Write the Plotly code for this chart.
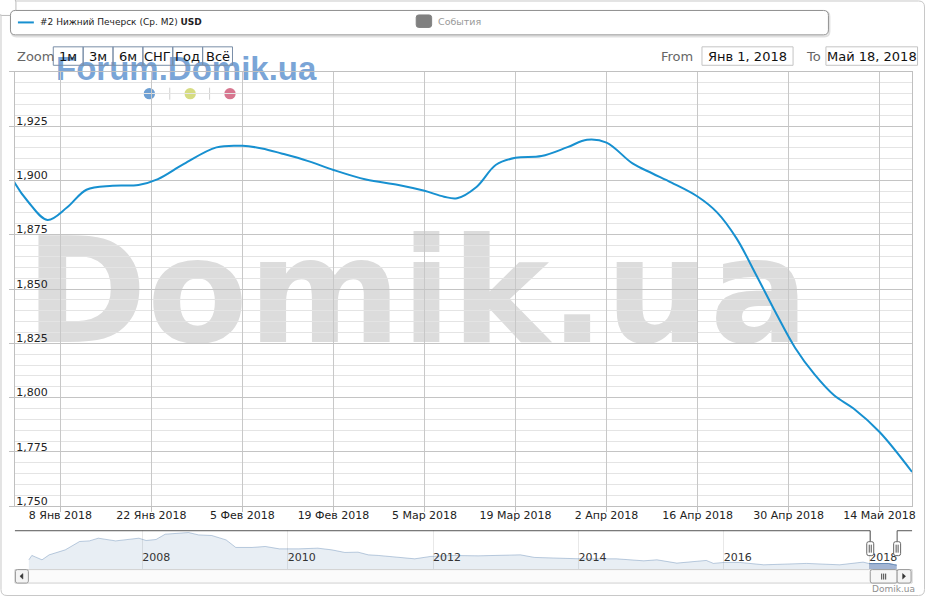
import plotly.graph_objects as go

W, H = 931, 600


def fx(x):
    return x / W


def fy(y):
    return 1 - y / H


# ---------------- data ----------------
series_name = "#2 Нижний Печерск (Ср. М2)"
series_unit = "USD"
events_label = "События"

main_dates = [
    "2017-12-30", "2018-01-01", "2018-01-03", "2018-01-06", "2018-01-09",
    "2018-01-12", "2018-01-16", "2018-01-20", "2018-01-23", "2018-01-27",
    "2018-02-01", "2018-02-05", "2018-02-08", "2018-02-11", "2018-02-15",
    "2018-02-19", "2018-02-24", "2018-03-01", "2018-03-05", "2018-03-08",
    "2018-03-10", "2018-03-13", "2018-03-16", "2018-03-19", "2018-03-23",
    "2018-03-27", "2018-03-30", "2018-04-02", "2018-04-06", "2018-04-09",
    "2018-04-12", "2018-04-16", "2018-04-19", "2018-04-22", "2018-04-25",
    "2018-04-28", "2018-05-01", "2018-05-04", "2018-05-07", "2018-05-10",
    "2018-05-14", "2018-05-19",
]
main_values = [
    1911.0, 1898.7, 1890.3, 1881.8, 1887.5,
    1895.7, 1897.5, 1897.9, 1900.6, 1907.6,
    1915.2, 1915.9, 1914.7, 1912.4, 1909.0,
    1904.8, 1900.4, 1897.9, 1895.2, 1892.5,
    1891.8, 1897.0, 1907.2, 1910.4, 1911.2,
    1915.3, 1918.7, 1917.4, 1907.8, 1903.3,
    1899.0, 1892.6, 1885.3, 1873.3, 1856.6,
    1839.3, 1823.0, 1810.7, 1801.1, 1795.0,
    1784.2, 1765.8,
]

x_tick_vals = ["2018-01-08", "2018-01-22", "2018-02-05", "2018-02-19", "2018-03-05",
               "2018-03-19", "2018-04-02", "2018-04-16", "2018-04-30", "2018-05-14"]
x_tick_text = ["8 Янв 2018", "22 Янв 2018", "5 Фев 2018", "19 Фев 2018", "5 Мар 2018",
               "19 Мар 2018", "2 Апр 2018", "16 Апр 2018", "30 Апр 2018", "14 Май 2018"]
x_range = ["2018-01-01", "2018-05-19"]

y_tick_vals = [1750, 1775, 1800, 1825, 1850, 1875, 1900, 1925, 1950]
y_tick_text = ["1,750", "1,775", "1,800", "1,825", "1,850", "1,875", "1,900", "1,925", ""]
y_range = [1750, 1950]

# navigator (full history, thumbnail)
nav_dates = [
    "2006-06-10", "2006-06-25", "2006-07-15", "2006-08-15", "2006-09-20", "2006-12-10",
    "2007-02-20", "2007-04-10", "2007-05-25", "2007-08-20", "2007-12-15", "2008-01-20",
    "2008-03-10", "2008-04-25", "2008-08-20", "2008-10-10", "2008-12-15", "2009-02-25",
    "2009-04-15", "2009-07-05", "2009-09-10", "2009-11-20", "2010-02-25", "2010-06-01",
    "2010-08-10", "2010-10-15", "2010-12-20", "2011-02-10", "2011-04-01", "2011-07-10",
    "2011-10-01", "2011-12-20", "2012-04-01", "2012-08-15", "2013-03-15", "2013-05-25",
    "2014-01-10", "2014-07-10", "2014-11-25", "2015-01-30", "2015-05-10", "2015-10-05",
    "2015-11-10", "2016-01-01", "2016-03-20", "2016-07-20", "2016-11-25", "2017-02-20",
    "2017-08-05", "2017-12-01",
]
nav_values = [
    2237, 2633, 2480, 2237, 2687, 3137,
    3893, 3947, 4190, 3947, 4190, 3983,
    4073, 4550, 4703, 4487, 4433, 4037,
    3353, 3353, 3443, 3227, 3227, 3290,
    3137, 2903, 2930, 2687, 2633, 2453,
    2327, 2543, 2633, 2597, 2687, 2453,
    2327, 2327, 2147, 2237, 1940, 2183,
    1913, 2003, 2003, 1787, 1850, 1913,
    1787, 2030,
]
nav_tick_vals = ["2008-01-01", "2010-01-01", "2012-01-01", "2014-01-01", "2016-01-01", "2018-01-01"]
nav_tick_text = ["2008", "2010", "2012", "2014", "2016", "2018"]
nav_x_range = ["2006-04-01", "2018-08-04"]
nav_y_range = [1400, 4910]

zoom_buttons = ["1м", "3м", "6м", "СНГ", "Год", "Всё"]
from_text = "Янв 1, 2018"
to_text = "Май 18, 2018"

FONT = "DejaVu Sans"
LINE_COLOR = "#1790d0"

# ---------------- traces ----------------
fig = go.Figure()
fig.add_trace(go.Scatter(
    x=main_dates, y=main_values, mode="lines",
    line=dict(color=LINE_COLOR, width=2, shape="spline", smoothing=1),
    xaxis="x", yaxis="y", hoverinfo="skip", showlegend=False,
))
fig.add_trace(go.Scatter(
    x=nav_dates + main_dates[1:], y=nav_values + main_values[1:], mode="lines",
    line=dict(color="rgba(69,114,167,0.35)", width=1),
    fill="tozeroy", fillcolor="rgba(69,114,167,0.12)",
    xaxis="x2", yaxis="y2", hoverinfo="skip", showlegend=False,
))
fig.add_trace(go.Scatter(
    x=main_dates[1:], y=main_values[1:], mode="lines",
    line=dict(color="rgba(69,114,167,0.6)", width=1),
    fill="tozeroy", fillcolor="rgba(80,110,170,0.45)",
    xaxis="x2", yaxis="y2", hoverinfo="skip", showlegend=False,
))


# ---------------- chrome helpers ----------------
def P(x, y):
    return f"{fx(x):.6f},{fy(y):.6f}"


def rr_path(x0, y0, x1, y1, r):
    return (f"M{P(x0 + r, y0)} L{P(x1 - r, y0)} Q{P(x1, y0)} {P(x1, y0 + r)} "
            f"L{P(x1, y1 - r)} Q{P(x1, y1)} {P(x1 - r, y1)} L{P(x0 + r, y1)} "
            f"Q{P(x0, y1)} {P(x0, y1 - r)} L{P(x0, y0 + r)} Q{P(x0, y0)} {P(x0 + r, y0)} Z")


shapes = []


def add_path(path, color="#999", width=1, fill="rgba(0,0,0,0)", layer="above"):
    shapes.append(dict(type="path", path=path, xref="paper", yref="paper",
                       line=dict(color=color, width=width), fillcolor=fill, layer=layer))


def add_line(x0, y0, x1, y1, color="#999", width=1):
    shapes.append(dict(type="line", xref="paper", yref="paper",
                       x0=fx(x0), y0=fy(y0), x1=fx(x1), y1=fy(y1),
                       line=dict(color=color, width=width), layer="above"))


def add_circle(cx, cy, r, color):
    shapes.append(dict(type="circle", xref="paper", yref="paper",
                       x0=fx(cx - r), x1=fx(cx + r), y0=fy(cy + r), y1=fy(cy - r),
                       line=dict(width=0), fillcolor=color, layer="below"))


# outer border
add_path(rr_path(1, 1, 928.5, 597.5, 6), color="#c8c8c8", width=1)
# top-left small box
add_path(rr_path(-2, -2, 16, 15.5, 4), color="#bbbbbb", width=1, fill="white")
# legend box (shadow + box)
add_path(rr_path(11.5, 11.5, 833, 36.5, 5), color="rgba(0,0,0,0.12)", width=2)
add_path(rr_path(10.5, 10.5, 832, 35, 5), color="#909090", width=1, fill="white")
add_line(18, 22.5, 34, 22.5, color=LINE_COLOR, width=2)
add_path(rr_path(418, 15, 433.5, 27.5, 2.5), color="#808080", width=1, fill="#808080")

# range selector buttons
for i in range(len(zoom_buttons)):
    x0 = 53.5 + 30 * i
    shapes.append(dict(type="rect", xref="paper", yref="paper",
                       x0=fx(x0), x1=fx(x0 + 30), y0=fy(65.5), y1=fy(47),
                       line=dict(color="#7a8ea8", width=1), fillcolor="rgba(0,0,0,0)", layer="above"))
# from / to boxes
for (a, b) in [(705, 796.5), (829.5, 921.5)]:
    shapes.append(dict(type="rect", xref="paper", yref="paper",
                       x0=fx(a), x1=fx(b), y0=fy(65.5), y1=fy(47),
                       line=dict(color="#c4c4c4", width=1), fillcolor="white", layer="above"))

# watermark dots
add_circle(150, 94, 5.7, "#6d9fd3")
add_circle(191, 94, 5.7, "#d6dc82")
add_circle(231, 94, 5.7, "#d7768f")
for sx in (170.5, 210.5):
    shapes.append(dict(type="line", xref="paper", yref="paper",
                       x0=fx(sx), x1=fx(sx), y0=fy(88), y1=fy(100),
                       line=dict(color="#d0d0d0", width=1), layer="below"))

# navigator outline
add_path(f"M{P(15, 532.5)} L{P(874, 532.5)} L{P(874, 543)}", color="#555", width=1)
add_path(f"M{P(901, 543)} L{P(901, 532.5)} L{P(916, 532.5)}", color="#555", width=1)
# handles
for hx in (874, 901):
    add_path(rr_path(hx - 3.5, 543.5, hx + 3.5, 557.5, 2), color="#666", width=1, fill="white")
    add_line(hx - 1, 546.5, hx - 1, 554.5, color="#555")
    add_line(hx + 1, 546.5, hx + 1, 554.5, color="#555")

# scrollbar
shapes.append(dict(type="rect", xref="paper", yref="paper",
                   x0=fx(15), x1=fx(916), y0=fy(585), y1=fy(571.5),
                   line=dict(color="#d0d0d0", width=1), fillcolor="#fbfbfb", layer="above"))
add_path(rr_path(15.5, 571.5, 28.5, 585, 2), color="#999", width=1, fill="#f4f4f4")
add_path(rr_path(874, 571.5, 901, 585, 2), color="#999", width=1, fill="#f7f7f7")
add_path(rr_path(901, 571.5, 915, 585, 2), color="#999", width=1, fill="#f4f4f4")
add_path(f"M{P(23, 575.5)} L{P(20, 578.2)} L{P(23, 581)} Z", color="#333", width=0.5, fill="#333")
add_path(f"M{P(906.5, 575.5)} L{P(909.5, 578.2)} L{P(906.5, 581)} Z", color="#333", width=0.5, fill="#333")
for gx in (885.5, 887.5, 889.5):
    add_line(gx, 575.5, gx, 581.5, color="#444")

# ---------------- annotations ----------------
ann = []


def add_text(text, x, y, size, color="#222", xanchor="left", family=FONT, weight="normal"):
    ann.append(dict(text=text, x=fx(x), y=fy(y), xref="paper", yref="paper",
                    xanchor=xanchor, yanchor="middle", showarrow=False,
                    font=dict(family=family, size=size, color=color, weight=weight)))


# index 0, 1: background watermarks (moved below the grid by post_script)
add_text("Domik.ua", 418.6, 292, 147, color="#dcdcdc", xanchor="center", weight="bold")
add_text("Forum.Domik.ua", 54.5, 68.6, 33, color="rgba(70,130,200,0.72)",
         family="Liberation Sans", weight="bold")

add_text(f"{series_name} <b>{series_unit}</b>", 38, 22.5, 9, color="#222")
add_text(events_label, 438, 22, 9.5, color="#999999")
add_text("Zoom", 15, 57, 13, color="#666666")
for i, lbl in enumerate(zoom_buttons):
    add_text(lbl, 53.5 + 30 * i + 15, 56.5, 13, color="#111", xanchor="center")
add_text("From", 698, 57, 13, color="#666666", xanchor="right")
add_text(from_text, 750.7, 56.5, 13, color="#111", xanchor="center")
add_text("To", 807, 57, 13, color="#666666")
add_text(to_text, 875.5, 56.5, 13, color="#111", xanchor="center")
add_text("Domik.ua", 921, 591, 9, color="#909090", xanchor="right")

# ---------------- layout ----------------
tickfont = dict(family=FONT, size=11, color="#222")
fig.update_layout(
    width=W, height=H, autosize=False,
    margin=dict(l=0, r=0, t=0, b=0, pad=0),
    paper_bgcolor="white", plot_bgcolor="white",
    showlegend=False, hovermode=False,
    font=dict(family=FONT),
    xaxis=dict(
        domain=[fx(15), fx(916)], anchor="y", type="date", range=x_range,
        tickmode="array", tickvals=x_tick_vals, ticktext=x_tick_text,
        ticks="outside", ticklen=5, tickcolor="#c0c0c0",
        ticklabelstandoff=-7,
        showgrid=True, gridcolor="#c8c8c8", gridwidth=1,
        showline=True, linecolor="#c0c0c0", mirror=True, zeroline=False,
        tickfont=tickfont, fixedrange=True,
    ),
    yaxis=dict(
        domain=[fy(508), fy(72)], anchor="x", range=y_range,
        tickmode="array", tickvals=y_tick_vals, ticktext=y_tick_text,
        ticklabelposition="inside top", ticklabelshift=3, ticklabeloverflow="allow",
        ticks="outside", ticklen=5, tickcolor="#c0c0c0",
        showgrid=True, gridcolor="#c4c4c4", gridwidth=1,
        minor=dict(tickmode="linear", tick0=1750, dtick=5, showgrid=True,
                   gridcolor="#e4e4e4", gridwidth=1, ticks=""),
        showline=True, linecolor="#c0c0c0", mirror=True, zeroline=False,
        tickfont=tickfont, fixedrange=True,
    ),
    xaxis2=dict(
        domain=[fx(15), fx(916)], anchor="y2", type="date", range=nav_x_range,
        tickmode="array", tickvals=nav_tick_vals, ticktext=nav_tick_text,
        ticklabelposition="inside right", ticks="",
        showgrid=True, gridcolor="#e8e8e8", gridwidth=1,
        showline=False, zeroline=False,
        tickfont=dict(family=FONT, size=11, color="#333"), fixedrange=True,
    ),
    yaxis2=dict(
        domain=[fy(571), fy(532)], anchor="x2", range=nav_y_range,
        visible=False, fixedrange=True,
    ),
    shapes=shapes,
    annotations=ann,
)

post = """
var st = document.createElement('style');
st.textContent = 'html,body{margin:0!important;padding:0!important;width:931px;height:600px;overflow:hidden;}';
document.head.appendChild(st);
var gd = document.getElementById('{plot_id}');
var wrap = gd.parentElement;
if (wrap) { wrap.style.height = '600px'; wrap.style.width = '931px'; wrap.style.overflow = 'hidden'; }
var below = gd.querySelector('.layer-below');
if (below) {
  [0, 1].forEach(function(i){
    var a = gd.querySelector('g.annotation[data-index="' + i + '"]');
    if (a) { below.appendChild(a); }
  });
}
"""

fig.write_html("out.html", config={"displayModeBar": False, "staticPlot": True}, post_script=post)
